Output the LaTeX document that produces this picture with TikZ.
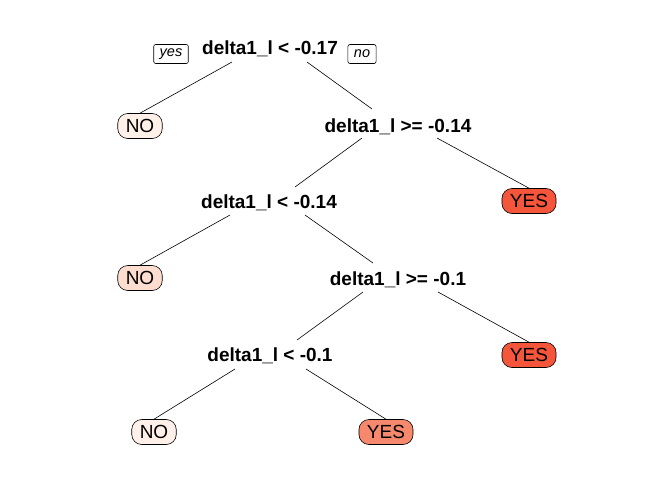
\documentclass[tikz,border=0pt]{standalone}
\usepackage{fontspec}
\setmainfont{Liberation Sans}
\definecolor{treeLeafPale}{HTML}{FFF0EA}
\definecolor{treeLeafPink}{HTML}{FDDDD0}
\definecolor{treeLeafRed}{HTML}{F4553B}
\definecolor{treeLeafSalmon}{HTML}{F6896D}
\tikzset{
  splitlab/.style={font=\fontsize{19}{21}\selectfont\bfseries, inner sep=0pt, anchor=base},
  leafbox/.style={draw, line width=0.6pt, rounded corners=10pt, minimum height=25pt,
    inner xsep=8pt, inner ysep=0pt, font=\fontsize{19}{21}\selectfont},
  tagbox/.style={draw, line width=0.6pt, rounded corners=2pt, minimum height=19pt,
    inner xsep=6pt, inner ysep=0pt, font=\fontsize{14.5}{16}\selectfont\itshape},
  branch/.style={line width=0.6pt}
}
\begin{document}
\begin{tikzpicture}[x=1pt, y=-1pt]
  \useasboundingbox (0,0) rectangle (672,480);
  \node[splitlab] (root) at (270,54) {delta1\_l < -0.17};
  \node[tagbox] (yestag) at (171,54) {yes};
  \node[tagbox] (notag) at (362,54) {no};
  \node[leafbox, fill=treeLeafPale] (no1) at (140,126) {NO};
  \node[splitlab] (s2) at (398,132) {delta1\_l >= -0.14};
  \node[leafbox, fill=treeLeafRed] (yes1) at (529,201) {YES};
  \node[splitlab] (s3) at (269,208) {delta1\_l < -0.14};
  \node[leafbox, fill=treeLeafPink] (no2) at (140,278) {NO};
  \node[splitlab] (s4) at (398,285) {delta1\_l >= -0.1};
  \node[leafbox, fill=treeLeafRed] (yes2) at (529,355) {YES};
  \node[splitlab] (s5) at (270,361) {delta1\_l < -0.1};
  \node[leafbox, fill=treeLeafPale] (no3) at (154,432) {NO};
  \node[leafbox, fill=treeLeafSalmon] (yes3) at (386,432) {YES};

  \draw[branch] ([shift={(-38,8)}]root.base) -- (no1.north);
  \draw[branch] ([shift={(37,8)}]root.base) -- ([shift={(-26,-23)}]s2.base);
  \draw[branch] ([shift={(-36,6)}]s2.base) -- ([shift={(26,-21)}]s3.base);
  \draw[branch] ([shift={(39,6)}]s2.base) -- (yes1.north);
  \draw[branch] ([shift={(-39,7)}]s3.base) -- (no2.north);
  \draw[branch] ([shift={(36,7)}]s3.base) -- ([shift={(-25,-22)}]s4.base);
  \draw[branch] ([shift={(-35,7)}]s4.base) -- ([shift={(27,-21)}]s5.base);
  \draw[branch] ([shift={(40,7)}]s4.base) -- (yes2.north);
  \draw[branch] ([shift={(-35,8)}]s5.base) -- (no3.north);
  \draw[branch] ([shift={(36,8)}]s5.base) -- (yes3.north);
\end{tikzpicture}
\end{document}
